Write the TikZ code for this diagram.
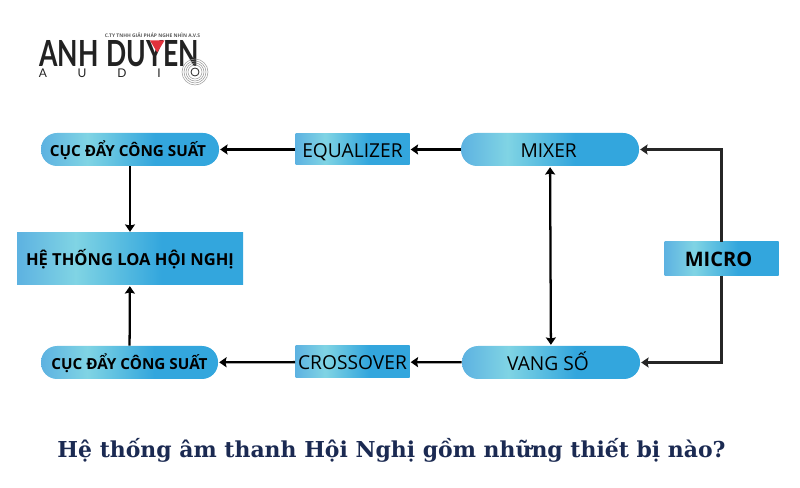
\documentclass[tikz,border=0pt]{standalone}
\usepackage{fontspec}
\usepackage{graphicx}
\usetikzlibrary{arrows.meta}
\setmainfont{Open Sans}
\newfontfamily\titlefont{DejaVu Serif}
\newfontfamily\logofont{Lato}
\definecolor{gradA}{HTML}{5DB2E1}
\definecolor{gradB}{HTML}{80D4E4}
\definecolor{gradC}{HTML}{33A6DD}
\definecolor{titlecol}{HTML}{1B2A52}
\definecolor{logored}{HTML}{E2313B}
\definecolor{logoink}{HTML}{222222}
\pgfdeclarehorizontalshading{boxgrad}{100bp}{color(0bp)=(gradA); color(25bp)=(gradA); color(38bp)=(gradB); color(57bp)=(gradC); color(75bp)=(gradC); color(100bp)=(gradC)}
\tikzset{
  gbox/.style={shade,shading=boxgrad,inner sep=0pt,align=center,text=black},
  sqbox/.style={gbox},
  pill/.style={gbox,rounded corners=12pt,minimum width=133.5pt,minimum height=24.75pt},
  normtxt/.style={font=\fontsize{14.4}{16}\selectfont,text height=11.5pt,text depth=0pt},
  boldtxt/.style={font=\fontsize{11.45}{13}\bfseries\selectfont,text height=10pt,text depth=0pt},
  bigbold/.style={font=\fontsize{12.4}{14}\bfseries\selectfont,text height=10.5pt,text depth=0pt},
  tip/.tip={Stealth[length=5.5pt,width=7.5pt,inset=0.8pt]},
  link/.style={line width=1.7pt,-tip,shorten >=0.7pt},
  vlink/.style={line width=2pt,-tip,shorten >=0.7pt},
  feed/.style={line width=1.6pt,draw=black!85,-tip,shorten >=0.7pt},
  audi/.style={font=\fontsize{9}{10}\selectfont\logofont,text=logoink,inner sep=0pt},
  ring/.style={draw=gray!80,line width=0.4pt}
}
\begin{document}
\begin{tikzpicture}[x=0.75pt,y=-0.75pt]
\useasboundingbox (0,0) rectangle (800,488);
% logo
\node[inner sep=0pt,anchor=base west,text=logoink] (brand) at (39,67) {\resizebox{120pt}{19.5pt}{\logofont\bfseries ANH\hspace{0.3em}DUYEN}};
\fill[logored] (150,40.5) -- (164.5,40.5) -- (157.2,52.5) -- cycle;
\node[inner sep=0pt,text=gray!70!black,font=\fontsize{3.7}{4}\bfseries\selectfont] (sub) at (152.5,35) {C.TY TNHH GIẢI PHÁP NGHE NHÌN A.V.S};
\node[audi] (la) at (43,73) {A};
\node[audi] (lu) at (82,73) {U};
\node[audi] (ld) at (122,73) {D};
\node[audi] (li) at (159,73) {I};
\foreach \r in {13,11,9,7}{\draw[ring] (195,72) circle[radius=\r];}
\draw[logoink,line width=0.6pt,fill=white] (195,72) circle[radius=4];
% boxes
\node[pill,boldtxt] (amp1) at (130,149.5) {\mbox{CỤC ĐẨY CÔNG SUẤT\hspace{3pt}}};
\node[sqbox,normtxt,minimum width=85.5pt,minimum height=23.25pt] (eq) at (352.5,149.5) {EQUALIZER};
\node[pill,normtxt] (mixer) at (550,149.5) {\mbox{MIXER\hspace{2pt}}};
\node[sqbox,bigbold,minimum width=169.5pt,minimum height=39pt] (loa) at (130,259) {HỆ THỐNG LOA HỘI NGHỊ};
\node[sqbox,font=\fontsize{15}{17}\bfseries\selectfont,text height=11.5pt,text depth=0pt,minimum width=85.5pt,minimum height=25.5pt] (micro) at (721.5,259) {\mbox{MICRO\hspace{4.5pt}}};
\node[pill,boldtxt,minimum width=132.75pt] (amp2) at (129.5,362.5) {CỤC ĐẨY CÔNG SUẤT};
\node[sqbox,normtxt,minimum width=85.5pt,minimum height=24pt] (cross) at (352.5,362) {CROSSOVER};
\node[pill,normtxt] (vang) at (551,362.5) {\mbox{VANG SỐ\hspace{4.5pt}}};
% connectors
\draw[link] (eq) -- (amp1);
\draw[link] (mixer) -- (eq);
\draw[vlink] (amp1) -- (loa);
\draw[link] (amp2) -- (loa);
\draw[link] (cross) -- (amp2);
\draw[link] (vang) -- (cross);
\draw[link,tip-tip,shorten <=0.7pt] (mixer) -- (vang);
\draw[feed] (micro.north) |- (mixer.east);
\draw[feed] (micro.south) |- (vang.east);
% title
\node[inner sep=0pt,anchor=base,text=titlecol,font=\fontsize{16.45}{18}\bfseries\selectfont\titlefont] (title) at (391.5,457) {Hệ thống âm thanh Hội Nghị gồm những thiết bị nào?};
\end{tikzpicture}
\end{document}
